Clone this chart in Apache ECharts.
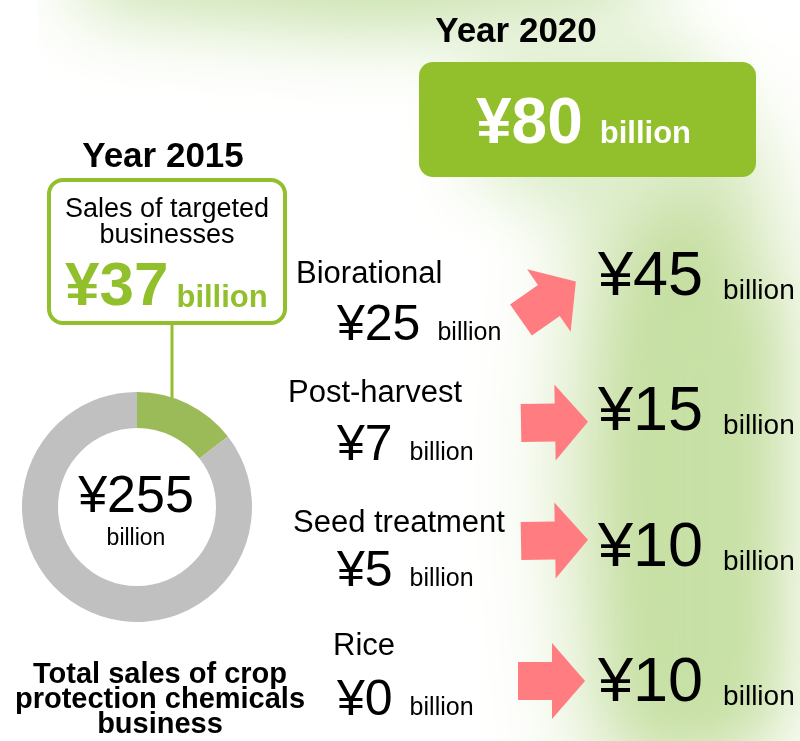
<!DOCTYPE html>
<html>
<head>
<meta charset="utf-8">
<script src="https://cdn.jsdelivr.net/npm/echarts@6/dist/echarts.min.js"></script>
<style>
  html, body { margin: 0; padding: 0; background: #fff; }
  #chart { width: 800px; height: 741px; }
</style>
</head>
<body>
<div id="chart"></div>
<script>
// data
const segments = ['Biorational', 'Post-harvest', 'Seed treatment', 'Rice']
const sales2015 = [25, 7, 5, 0]
const sales2020 = [45, 15, 10, 10]
const totalSales2015 = 255
const targeted2015 = 37
const targeted2020 = 80
const unit = 'billion'

// layout (screen positions per row)
const labelX = [296, 288, 293, 333]
const labelBase = [283, 402, 532, 655]
const valueBase = [340, 460, 586, 715]
const targetBase = [295, 430, 566, 701]
const arrows = [
  { x: 521, y: 320, rot: 35 },
  { x: 521, y: 423, rot: 1 },
  { x: 521, y: 541, rot: 1 },
  { x: 518, y: 681, rot: 0 }
]

const FONT = "'Liberation Sans', Arial, sans-serif"
const GREEN = '#92c02c'
const PINK = '#ff7c80'

const ctx = document.createElement('canvas').getContext('2d')
const measure = (str, size, weight) => {
  ctx.font = (weight || 'normal') + ' ' + size + 'px ' + FONT
  return ctx.measureText(str).width
}

// text placed by its baseline
const txt = (str, x, base, size, o = {}) => ({
  type: 'text',
  x: x,
  y: base - 0.27 * size,
  z: 20,
  silent: true,
  style: {
    text: str,
    fontSize: size,
    fontFamily: FONT,
    fontWeight: o.weight || 'normal',
    fill: o.color || '#000',
    align: o.align || 'left',
    textAlign: o.align || 'left',
    verticalAlign: 'middle',
    textVerticalAlign: 'middle'
  }
})

// number + small "billion"
const money = (val, x, base, size, smallSize, gap, o = {}) => {
  const s = '¥' + val
  const w = measure(s, size, o.weight)
  return [
    txt(s, x, base, size, o),
    txt(unit, x + w + gap, base + (o.drop || 0), smallSize, o)
  ]
}

const arrowPts = [[0, -19], [34, -19], [34, -38], [67, 0], [34, 38], [34, 19], [0, 19]]

// soft green glow, drawn only as shadow
const glow = (pts, color, blur) => ({
  type: 'polygon',
  x: -2000,
  z: 0,
  silent: true,
  shape: { points: pts },
  style: { fill: color, shadowBlur: blur, shadowColor: color, shadowOffsetX: 2000 }
})

const graphics = [
  glow([[610, 150], [730, 120], [775, 320], [770, 740], [610, 790], [580, 470]], '#c0db98', 110),
  glow([[640, 300], [760, 300], [760, 730], [640, 730]], '#c8e1a6', 60),
  glow([[80, -70], [620, -70], [660, 5], [380, 30], [80, 5]], '#c4dfa4', 80),
  glow([[470, 40], [690, 40], [730, 160], [600, 220], [470, 180]], '#dcedc9', 70),
  { type: 'rect', z: 1, silent: true, shape: { x: 0, y: 0, width: 38, height: 180 }, style: { fill: '#fff' } },

  // 2020 box
  { type: 'rect', z: 5, shape: { x: 419, y: 62, width: 337, height: 115, r: 14 }, style: { fill: GREEN } },
  txt('Year 2020', 516, 42, 35, { weight: 'bold', align: 'center' }),
  ...money(targeted2020, 476, 143, 64, 31, 17, { weight: 'bold', color: '#fff' }),

  // 2015 box
  txt('Year 2015', 163, 167, 35, { weight: 'bold', align: 'center' }),
  { type: 'line', z: 1, shape: { x1: 172, y1: 325, x2: 172, y2: 405 }, style: { stroke: GREEN, lineWidth: 3 } },
  { type: 'rect', z: 5, shape: { x: 49, y: 180, width: 236, height: 143, r: 14 }, style: { fill: '#fff', stroke: GREEN, lineWidth: 4 } },
  txt('Sales of targeted', 167, 217, 27, { align: 'center' }),
  txt('businesses', 167, 243, 27, { align: 'center' }),
  ...money(targeted2015, 65, 305, 62, 31, 8, { weight: 'bold', color: GREEN, drop: 2 }),

  // donut centre
  txt('¥' + totalSales2015, 136, 512, 52, { align: 'center' }),
  txt(unit, 136, 545, 23, { align: 'center' }),
  txt('Total sales of crop', 160, 683, 29, { weight: 'bold', align: 'center' }),
  txt('protection chemicals', 160, 708, 29, { weight: 'bold', align: 'center' }),
  txt('business', 160, 733, 29, { weight: 'bold', align: 'center' })
]

segments.forEach((name, i) => {
  graphics.push(txt(name, labelX[i], labelBase[i], 31))
  graphics.push(...money(sales2015[i], 337, valueBase[i], 50, 25, 17))
  graphics.push(...money(sales2020[i], 598, targetBase[i], 63, 28, 20, { drop: 4 }))
  graphics.push({
    type: 'polygon',
    z: 10,
    x: arrows[i].x,
    y: arrows[i].y,
    rotation: arrows[i].rot * Math.PI / 180,
    shape: { points: arrowPts },
    style: { fill: PINK }
  })
})

const chart = echarts.init(document.getElementById('chart'), null, { renderer: 'canvas' })
chart.setOption({
  animation: false,
  backgroundColor: '#fff',
  series: [
    {
      type: 'pie',
      z: 3,
      center: [137, 507],
      radius: [79, 115],
      startAngle: 90,
      clockwise: true,
      silent: true,
      label: { show: false },
      labelLine: { show: false },
      emphasis: { disabled: true },
      data: [
        { value: targeted2015, name: 'Targeted businesses', itemStyle: { color: '#9bbb59' } },
        { value: totalSales2015 - targeted2015, name: 'Other', itemStyle: { color: '#c0c0c0' } }
      ]
    }
  ],
  graphic: graphics
})
</script>
</body>
</html>
